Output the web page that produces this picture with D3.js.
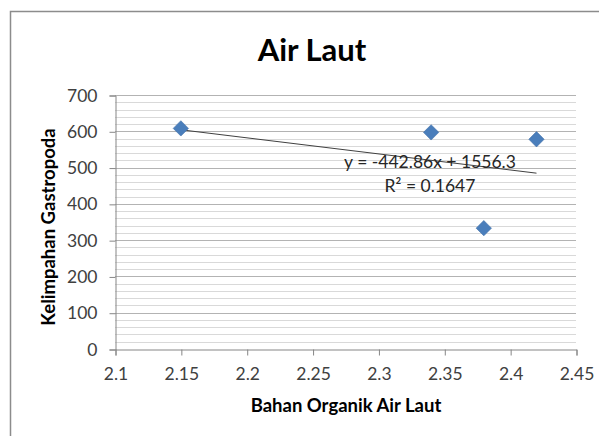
<!DOCTYPE html>
<html>
<head>
<meta charset="utf-8">
<script src="https://cdn.jsdelivr.net/npm/d3@7"></script>
<style>
  body { margin: 0; background: #fff; }
  text { font-family: Lato, "Open Sans", sans-serif; }
</style>
</head>
<body>
<svg id="main-svg"></svg>
<script>
// data
let bahanOrganik = [2.15, 2.34, 2.38, 2.42];
let kelimpahan = [608, 597, 333, 578];
let xTicks = [2.1, 2.15, 2.2, 2.25, 2.3, 2.35, 2.4, 2.45];
let yTicks = [0, 100, 200, 300, 400, 500, 600, 700];
let trendSlope = -442.86, trendIntercept = 1556.3;
let trendLabel = "y = -442.86x + 1556.3";
let r2Label = "R\u00b2 = 0.1647";

let width = 599, height = 436;
let svg = d3.select('#main-svg').attr('width', width).attr('height', height);

// chart frame
svg.append('path')
  .attr('d', 'M10.5,436 L10.5,11.5 L599,11.5')
  .attr('fill', 'none')
  .attr('stroke', '#8c8c8c')
  .attr('stroke-width', 1.5);

let x = d3.scaleLinear().domain([2.1, 2.45]).range([115, 576]);
let y = d3.scaleLinear().domain([0, 700]).range([349, 95]);

// minor gridlines (every 20)
let minor = d3.range(20, 700, 20).filter(v => v % 100 !== 0);
svg.append('g').selectAll('line')
  .data(minor)
  .enter()
  .append('line')
  .attr('x1', x(2.1)).attr('x2', x(2.45))
  .attr('y1', d => Math.round(y(d)) + 0.5).attr('y2', d => Math.round(y(d)) + 0.5)
  .attr('stroke', '#d9d9d9');

// major gridlines
svg.append('g').selectAll('line')
  .data(yTicks.filter(v => v > 0))
  .enter()
  .append('line')
  .attr('x1', x(2.1)).attr('x2', x(2.45))
  .attr('y1', d => Math.round(y(d)) + 0.5).attr('y2', d => Math.round(y(d)) + 0.5)
  .attr('stroke', '#b3b3b3');

// axes
let yAxis = svg.append('g')
  .attr('transform', `translate(${x(2.1) + 0.5},0.5)`)
  .call(d3.axisLeft(y).tickValues(yTicks).tickSize(6).tickPadding(12));
let xAxis = svg.append('g')
  .attr('transform', `translate(0.5,${y(0) + 0.5})`)
  .call(d3.axisBottom(x).tickValues(xTicks).tickSize(6).tickPadding(10).tickFormat(d3.format('')));

[yAxis, xAxis].forEach(a => {
  a.select('.domain').attr('stroke', '#868686');
  a.selectAll('.tick line').attr('stroke', '#868686');
  a.selectAll('.tick text')
    .attr('fill', '#404040')
    .style('font-size', '17.5px');
});
xAxis.selectAll('.tick text').attr('dy', '0.85em');

// trendline
let trendX = d3.extent(bahanOrganik);
svg.append('line')
  .attr('x1', x(trendX[0])).attr('y1', y(trendSlope * trendX[0] + trendIntercept))
  .attr('x2', x(trendX[1])).attr('y2', y(trendSlope * trendX[1] + trendIntercept))
  .attr('stroke', '#404040')
  .attr('stroke-width', 1);

// markers
let points = bahanOrganik.map((d, i) => ({x: d, y: kelimpahan[i]}));
svg.append('g').selectAll('path')
  .data(points)
  .enter()
  .append('path')
  .attr('d', d3.symbol().type(d3.symbolDiamond2).size(150))
  .attr('transform', d => `translate(${x(d.x)},${y(d.y)})`)
  .attr('fill', '#4a7ebb')
  .attr('stroke', '#3f6fa8')
  .attr('stroke-width', 0.6);

// trendline label
svg.append('text')
  .attr('x', 430).attr('y', 168)
  .attr('text-anchor', 'middle')
  .attr('fill', '#262626')
  .style('font-size', '17.5px')
  .text(trendLabel);
svg.append('text')
  .attr('x', 430).attr('y', 192)
  .attr('text-anchor', 'middle')
  .attr('fill', '#262626')
  .style('font-size', '17.5px')
  .text(r2Label);

// titles
svg.append('text')
  .attr('x', 312).attr('y', 61)
  .attr('text-anchor', 'middle')
  .style('font-size', '31px')
  .style('font-weight', 'bold')
  .attr('fill', '#000')
  .text('Air Laut');

svg.append('text')
  .attr('x', 346).attr('y', 412)
  .attr('text-anchor', 'middle')
  .style('font-size', '18.5px')
  .style('font-weight', 'bold')
  .attr('fill', '#000')
  .text('Bahan Organik Air Laut');

svg.append('text')
  .attr('transform', 'translate(55,227) rotate(-90)')
  .attr('text-anchor', 'middle')
  .style('font-size', '18.5px')
  .style('font-weight', 'bold')
  .attr('fill', '#000')
  .text('Kelimpahan Gastropoda');
</script>
</body>
</html>
